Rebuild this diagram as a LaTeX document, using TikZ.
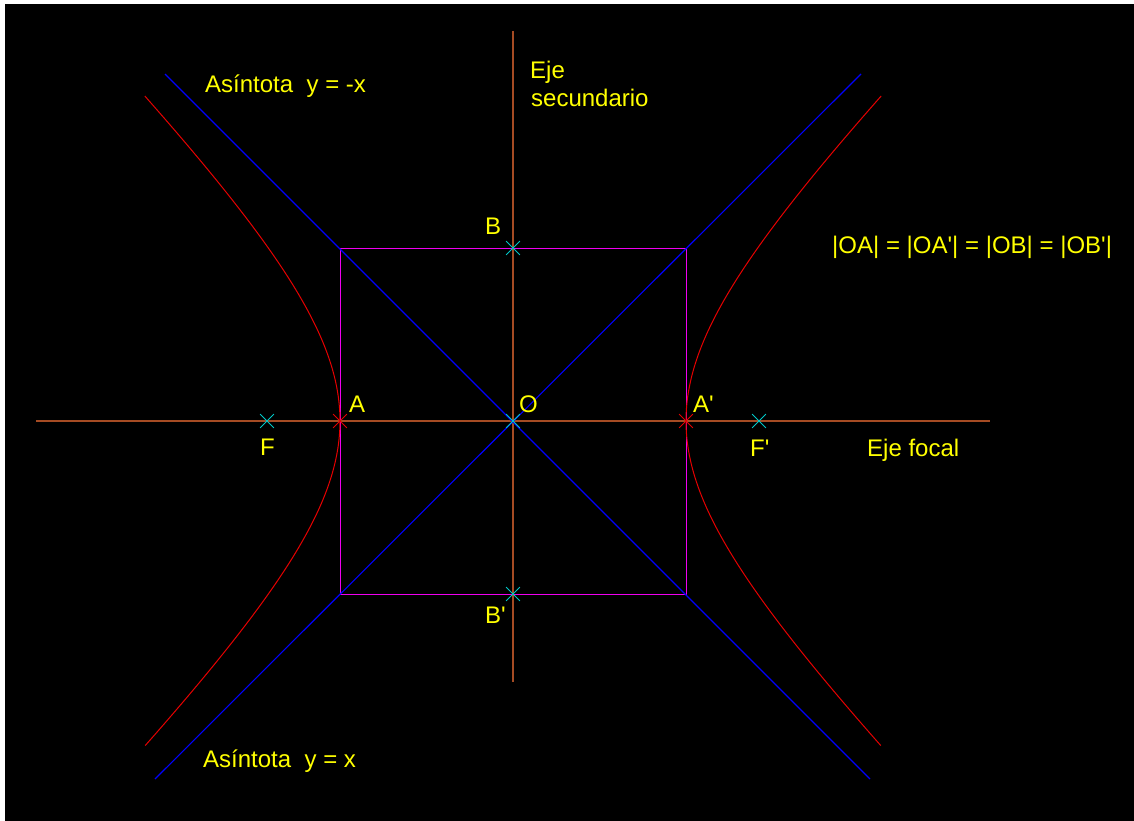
\documentclass[tikz,border=0pt]{standalone}
\usepackage{fontspec}
\setmainfont{Liberation Sans}
\usetikzlibrary{shapes.misc}
\definecolor{axisc}{RGB}{165,75,35}
\definecolor{asymc}{RGB}{0,0,255}
\definecolor{hypc}{RGB}{230,0,0}
\definecolor{boxc}{RGB}{240,0,240}
\definecolor{markc}{RGB}{0,200,200}
\definecolor{labc}{RGB}{255,255,0}
\newcommand{\pr}{\textquotesingle}
\tikzset{
  lab/.style={text=labc, inner sep=0pt, anchor=base west, font=\fontsize{24}{28}\selectfont},
  pt/.style={cross out, draw=markc, line width=0.8pt, minimum size=13pt, inner sep=0pt},
  vpt/.style={pt, draw=hypc},
  axisline/.style={draw=axisc, line width=1.5pt},
  asym/.style={draw=asymc, line width=1.1pt},
  hyp/.style={draw=hypc, line width=1pt},
  boxline/.style={draw=boxc, line width=1pt}
}
\begin{document}
\begin{tikzpicture}[x=1pt,y=-1pt]
\fill[white] (0,0) rectangle (1134,821);
\fill[black] (5,4) rectangle (1134,821);
\useasboundingbox (0,0) rectangle (1134,821);
% axes end points
\coordinate (fl) at (36,421);
\coordinate (fr) at (990,421);
\coordinate (st) at (513,31);
\coordinate (sb) at (513,682);
\draw[axisline] (fl) -- (fr);
\draw[axisline] (st) -- (sb);
% box corners
\coordinate (c1) at (340,248);
\coordinate (c2) at (686,248);
\coordinate (c3) at (686,594);
\coordinate (c4) at (340,594);
\draw[boxline] (c1) -- (c2) -- (c3) -- (c4) -- cycle;
% asymptotes
\coordinate (m1) at (165,74);
\coordinate (m2) at (870,779);
\coordinate (p1) at (155,779);
\coordinate (p2) at (861,74);
\draw[asym] (m1) -- (m2);
\draw[asym] (p1) -- (p2);
% hyperbola branches
\draw[hyp] plot[smooth, domain=-1.388:1.388, samples=80, variable=\t] ({513+173*cosh(\t)}, {421+173*sinh(\t)});
\draw[hyp] plot[smooth, domain=-1.388:1.388, samples=80, variable=\t] ({513-173*cosh(\t)}, {421+173*sinh(\t)});
% points
\node[pt] (O) at (513,421) {};
\node[vpt] (A) at (340,421) {};
\node[vpt] (Ap) at (686,421) {};
\node[pt] (B) at (513,248) {};
\node[pt] (Bp) at (513,594) {};
\node[pt] (F) at (267,421) {};
\node[pt] (Fp) at (759,421) {};
% labels
\node[lab] (lA) at (349,412) {A};
\node[lab] (lO) at (519,412) {O};
\node[lab] (lAp) at (693,412) {A\pr};
\node[lab] (lB) at (485,234) {B};
\node[lab] (lBp) at (485,623) {B\pr};
\node[lab] (lF) at (260,455) {F};
\node[lab] (lFp) at (750,456) {F\pr};
\node[lab] (efocal) at (867,456) {Eje focal};
\node[lab] (esec1) at (530,79) {Eje};
\node[lab] (esec2) at (531,107) {secundario};
\node[lab] (as1) at (205,93) {Asíntota\ \ y = -x};
\node[lab] (as2) at (203,767) {Asíntota\ \ y = x};
\node[lab] (eq) at (832,253) {|OA| = |OA\pr| = |OB| = |OB\pr|};
\end{tikzpicture}
\end{document}
